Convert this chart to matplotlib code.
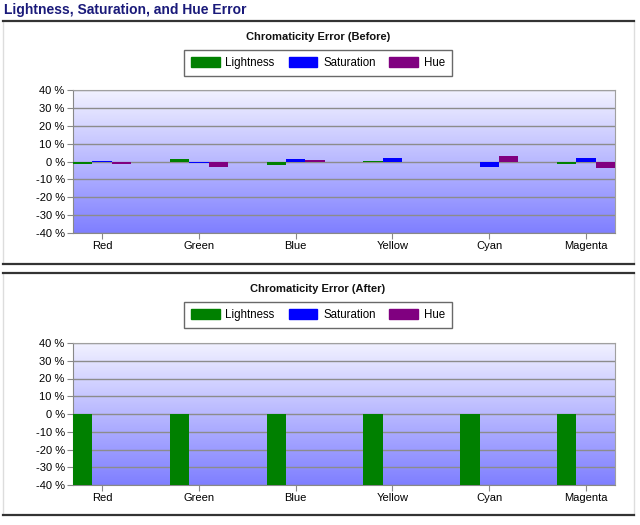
import numpy as np
import matplotlib
matplotlib.use("Agg")
import matplotlib.pyplot as plt
from matplotlib.lines import Line2D
from matplotlib.patches import Patch

plt.rcParams["font.family"] = ["Liberation Sans", "DejaVu Sans"]

colors_names = ["Red", "Green", "Blue", "Yellow", "Cyan", "Magenta"]
series_names = ["Lightness", "Saturation", "Hue"]
series_colors = ["#008000", "#0000ff", "#800080"]

before_lightness = [-1.3, 1.5, -2.2, 0.4, -0.3, -1.5]
before_saturation = [0.4, -0.7, 1.5, 2.0, -2.8, 2.0]
before_hue = [-1.5, -2.8, 0.9, -0.2, 3.3, -3.5]

after_lightness = [-40, -40, -40, -40, -40, -40]
after_saturation = [0, 0, 0, 0, 0, 0]
after_hue = [0, 0, 0, 0, 0, 0]

y_ticks = [-40, -30, -20, -10, 0, 10, 20, 30, 40]

W, H = 640, 525


def fx(px):
    return px / W


def fy(py):
    return 1 - py / H


def draw_chart(fig, top_px, bottom_px, title, title_y, legend_y, series):
    ax = fig.add_axes([fx(73), fy(bottom_px), fx(615) - fx(73), fy(top_px) - fy(bottom_px)])
    x = np.arange(len(colors_names))
    width = 0.2

    # gradient background, dark blue at the bottom, pale at the top
    grad = np.linspace(0, 1, 256).reshape(-1, 1)
    cmap = matplotlib.colors.LinearSegmentedColormap.from_list("bg", ["#7f7fff", "#f2f2ff"])
    ax.imshow(grad, aspect="auto", cmap=cmap, extent=[-0.3, 5.3, -40, 40],
              origin="lower", zorder=0, interpolation="bilinear")

    for k, vals in enumerate(series):
        ax.bar(x + (k - 1) * width, vals, width, color=series_colors[k],
               linewidth=0, zorder=3)

    ax.set_xlim(-0.3, 5.3)
    ax.set_ylim(-40, 40)
    ax.set_yticks(y_ticks)
    ax.set_yticklabels([f"{t} %" for t in y_ticks], fontsize=8)
    ax.set_xticks(x)
    ax.set_xticklabels(colors_names, fontsize=8)
    ax.tick_params(axis="both", length=4, color="#888888", width=0.8, pad=2)
    ax.yaxis.grid(True, color="#8c8c8c", linewidth=1, zorder=1)
    ax.set_axisbelow(True)
    for s in ax.spines.values():
        s.set_color("#a0a0a0")
        s.set_linewidth(0.8)
    ax.spines["left"].set_color("#888888")
    ax.spines["bottom"].set_color("#888888")

    fig.text(fx(318), fy(title_y), title, ha="center", va="center",
             fontsize=8, fontweight="bold", color="#111111")

    handles = [Patch(facecolor=c, edgecolor=c) for c in series_colors]
    leg = fig.legend(handles, series_names, loc="center", ncol=3,
                     bbox_to_anchor=(fx(318), fy(legend_y)), fontsize=8.3,
                     frameon=True, fancybox=False, handlelength=2.5, handleheight=1.0,
                     handletextpad=0.5, columnspacing=1.2, borderpad=0.6)
    leg.get_frame().set_edgecolor("#444444")
    leg.get_frame().set_linewidth(1.0)
    return ax


def panel_border(fig, top_px, bottom_px):
    fig.add_artist(Line2D([fx(3), fx(3)], [fy(top_px), fy(bottom_px)],
                          transform=fig.transFigure, color="#dddddd", linewidth=1))
    fig.add_artist(Line2D([fx(634), fx(634)], [fy(top_px), fy(bottom_px)],
                          transform=fig.transFigure, color="#dddddd", linewidth=1))
    fig.add_artist(Line2D([fx(3), fx(634)], [fy(top_px), fy(top_px)],
                          transform=fig.transFigure, color="#333333", linewidth=1.6))
    fig.add_artist(Line2D([fx(3), fx(634)], [fy(bottom_px), fy(bottom_px)],
                          transform=fig.transFigure, color="#333333", linewidth=1.6))


fig = plt.figure(figsize=(6.4, 5.25), dpi=100)
fig.patch.set_facecolor("white")

fig.text(fx(4), fy(10), "Lightness, Saturation, and Hue Error", ha="left", va="center",
         fontsize=10, fontweight="bold", color="#1a1a7a")

panel_border(fig, 21, 264)
panel_border(fig, 273, 515)

draw_chart(fig, 90, 233, "Chromaticity Error (Before)", 37, 63,
           [before_lightness, before_saturation, before_hue])
draw_chart(fig, 343, 485, "Chromaticity Error (After)", 289, 315,
           [after_lightness, after_saturation, after_hue])

fig.savefig("out.png", dpi=100)
